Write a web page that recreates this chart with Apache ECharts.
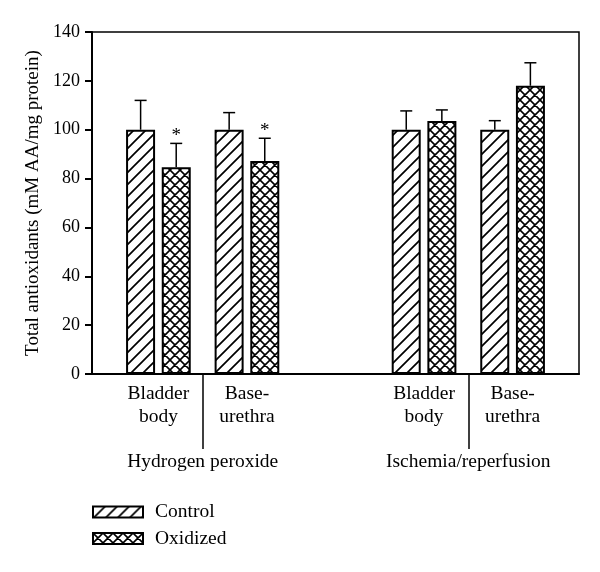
<!DOCTYPE html>
<html>
<head>
<meta charset="utf-8">
<script src="https://cdn.jsdelivr.net/npm/echarts@6/dist/echarts.min.js"></script>
<style>html,body{margin:0;padding:0;background:#fff}#c{width:600px;height:572px}</style>
</head>
<body>
<div id="c"></div>
<script>
// ---- data ----
const categories = ['Bladder\nbody', 'Base-\nurethra', 'Bladder\nbody', 'Base-\nurethra'];
const slots = [0, 1, 3, 4];            // slot 2 is the empty gap between the two experiments
const groups = ['Hydrogen peroxide', 'Ischemia/reperfusion'];
const groupSlots = [0.5, 3.5];
const control = [100, 100, 100, 100];
const controlErr = [12, 7, 7.7, 3.7];
const oxidized = [84.6, 87.2, 103.6, 118];
const oxidizedErr = [9.8, 9.3, 4.5, 9.4];
const significant = [true, true, false, false];
const yTicks = [0, 20, 40, 60, 80, 100, 120, 140];

// ---- patterns ----
function pattern(size, cross, lw) {
  const c = document.createElement('canvas');
  c.width = c.height = size;
  const g = c.getContext('2d');
  g.fillStyle = '#fff'; g.fillRect(0, 0, size, size);
  g.strokeStyle = '#000'; g.lineWidth = lw;
  g.beginPath();
  g.moveTo(-2, size + 2); g.lineTo(size + 2, -2);
  g.moveTo(-2, 2); g.lineTo(2, -2);
  g.moveTo(size - 2, size + 2); g.lineTo(size + 2, size - 2);
  if (cross) {
    g.moveTo(-2, -2); g.lineTo(size + 2, size + 2);
    g.moveTo(size - 2, -2); g.lineTo(size + 2, 2);
    g.moveTo(-2, size - 2); g.lineTo(2, size + 2);
  }
  g.stroke();
  return c;
}
const ctrlPat = { image: pattern(12, false, 1.7), repeat: 'repeat' };
const oxPat = { image: pattern(10, true, 1.6), repeat: 'repeat' };

const FONT = 'Liberation Serif';
const BAR_OFF = 17.8;

const errData = [];
slots.forEach((s, i) => {
  errData.push([s, control[i], controlErr[i], 0, 0]);
  errData.push([s, oxidized[i], oxidizedErr[i], 1, significant[i] ? 1 : 0]);
});

const chart = echarts.init(document.getElementById('c'), null, { renderer: 'canvas' });
chart.setOption({
  animation: false,
  textStyle: { fontFamily: FONT },
  grid: { left: 92, right: 21, top: 32, bottom: 198, show: true, borderColor: '#000', borderWidth: 1.5, backgroundColor: 'transparent' },
  legend: {
    left: 92, top: 502, orient: 'vertical', icon: 'rect', padding: 0,
    itemWidth: 50, itemHeight: 11, itemGap: 6.5,
    itemStyle: { borderColor: '#000', borderWidth: 2 },
    textStyle: { fontFamily: FONT, fontSize: 19.5, color: '#000', padding: [0, 0, 0, 7] },
    data: ['Control', 'Oxidized']
  },
  xAxis: [{
    type: 'value', min: -0.75, max: 4.75, position: 'bottom',
    axisLine: { show: true, onZero: false, lineStyle: { color: '#000', width: 2 } },
    splitLine: { show: false },
    axisTick: { show: true, customValues: groupSlots, length: 75, inside: false, lineStyle: { color: '#000', width: 1.5 } },
    axisLabel: {
      customValues: slots, margin: 8, color: '#000', fontSize: 19.5, fontFamily: FONT, lineHeight: 23,
      formatter: v => { const i = slots.indexOf(Math.round(v)); return i >= 0 ? categories[i] : ''; }
    }
  }, {
    type: 'value', min: -0.75, max: 4.75, position: 'bottom', offset: 0,
    axisLine: { show: false, onZero: false }, splitLine: { show: false }, axisTick: { show: false },
    axisLabel: {
      customValues: groupSlots, margin: 78, color: '#000', fontSize: 19.5, fontFamily: FONT,
      formatter: v => { const i = groupSlots.indexOf(v); return i >= 0 ? groups[i] : ''; }
    }
  }],
  yAxis: {
    type: 'value', min: 0, max: 140, interval: 20,
    name: 'Total antioxidants (mM AA/mg protein)', nameLocation: 'middle', nameGap: 49,
    nameTextStyle: { fontFamily: FONT, fontSize: 19, color: '#000' },
    axisLine: { show: true, onZero: false, lineStyle: { color: '#000', width: 2 } },
    axisTick: { show: true, length: 7, lineStyle: { color: '#000', width: 2 } },
    splitLine: { show: false },
    axisLabel: { color: '#000', fontSize: 18, fontFamily: FONT, margin: 12,
      formatter: v => yTicks.includes(v) ? String(v) : '' }
  },
  series: [{
    name: 'Control', type: 'bar', xAxisIndex: 0,
    barWidth: 29, barGap: '23%',
    itemStyle: { color: ctrlPat, borderColor: '#000', borderWidth: 2 },
    data: slots.map((s, i) => [s, control[i]])
  }, {
    name: 'Oxidized', type: 'bar', xAxisIndex: 0,
    barWidth: 29, barGap: '23%',
    itemStyle: { color: oxPat, borderColor: '#000', borderWidth: 2 },
    data: slots.map((s, i) => [s, oxidized[i]])
  }, {
    type: 'custom', xAxisIndex: 0, z: 5, silent: true,
    data: errData,
    renderItem: (params, api) => {
      const s = api.value(0), v = api.value(1), e = api.value(2), k = api.value(3), sig = api.value(4);
      const off = k === 0 ? -BAR_OFF : BAR_OFF;
      const p0 = api.coord([s, v]);
      const p1 = api.coord([s, v + e]);
      const x = p0[0] + off;
      const children = [
        { type: 'line', shape: { x1: x, y1: p0[1], x2: x, y2: p1[1] }, style: { stroke: '#000', lineWidth: 1.5 } },
        { type: 'line', shape: { x1: x - 6, y1: p1[1], x2: x + 6, y2: p1[1] }, style: { stroke: '#000', lineWidth: 1.5 } }
      ];
      if (sig) {
        children.push({ type: 'text', x: x, y: p1[1] + 2, style: { text: '*', fontFamily: FONT, fontSize: 19, fill: '#000', align: 'center', verticalAlign: 'bottom' } });
      }
      return { type: 'group', children };
    }
  }]
});
</script>
</body>
</html>
